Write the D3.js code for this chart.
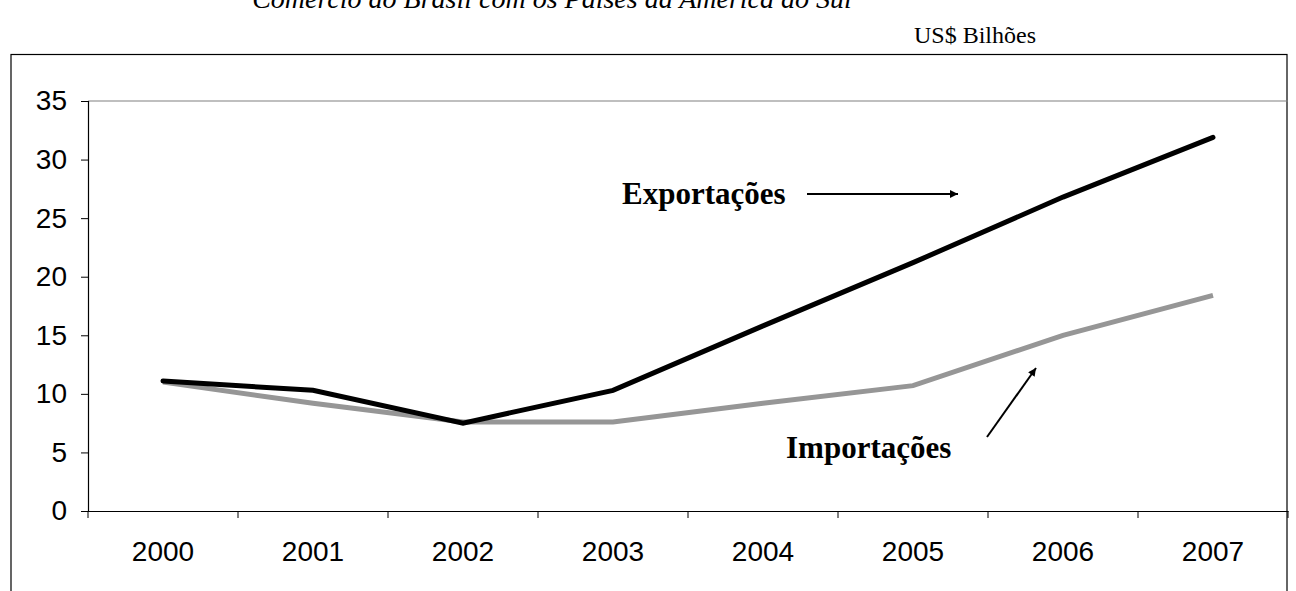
<!DOCTYPE html>
<html><head><meta charset="utf-8">
<script src="https://cdn.jsdelivr.net/npm/d3@7"></script>
<style>body{margin:0;background:#fff;} svg{display:block;}</style>
</head><body>
<svg id="c" width="1296" height="591"></svg>
<script>
const years = ["2000","2001","2002","2003","2004","2005","2006","2007"];
const exportacoes = [11.1, 10.3, 7.5, 10.3, 15.8, 21.2, 26.8, 31.9];
const importacoes = [11.0, 9.2, 7.6, 7.6, 9.2, 10.7, 15.0, 18.4];
const yTicks = [0,5,10,15,20,25,30,35];
const title = "Comércio do Brasil com os Países da América do Sul";
const unitLabel = "US$ Bilhões";

const svg = d3.select("#c");
const L = 88, R = 1288, T = 101, B = 511;
const x = d3.scaleBand().domain(years).range([L, R]);
const y = d3.scaleLinear().domain([0, 35]).range([B, T]);

// title (cut at top) and unit
svg.append("text").attr("x", 552).attr("y", 8).attr("text-anchor","middle")
  .attr("font-family","Liberation Serif").attr("font-style","italic").attr("font-size",28)
  .text(title);
svg.append("text").attr("x", 975).attr("y", 43).attr("text-anchor","middle")
  .attr("font-family","Liberation Serif").attr("font-size",24).text(unitLabel);

// outer chart border
svg.append("rect").attr("x",11).attr("y",54.5).attr("width",1276).attr("height",560)
  .attr("fill","none").attr("stroke","#000").attr("stroke-width",1.2);

// plot area border top
svg.append("line").attr("x1",L).attr("x2",R).attr("y1",T).attr("y2",T)
  .attr("stroke","#808080").attr("stroke-width",1.2);

// Y axis
const ya = svg.append("g").attr("transform",`translate(${L},0)`)
  .call(d3.axisLeft(y).tickValues(yTicks).tickSize(7).tickPadding(14));
ya.select(".domain").attr("stroke","#000").attr("stroke-width",1.2);
ya.selectAll(".tick line").attr("stroke","#000");
ya.selectAll("text").attr("font-family","Liberation Sans").attr("font-size",28).attr("fill","#000");

// X axis
const xa = svg.append("g").attr("transform",`translate(0,${B})`)
  .call(d3.axisBottom(x).tickSize(0).tickPadding(30));
xa.select(".domain").attr("stroke","#000").attr("stroke-width",1.2);
xa.selectAll("text").attr("font-family","Liberation Sans").attr("font-size",28).attr("fill","#000");
const bounds = years.map(d => x(d)).concat([R]);
svg.append("g").selectAll("line").data(bounds).join("line")
  .attr("x1",d=>d).attr("x2",d=>d).attr("y1",B).attr("y2",B+7)
  .attr("stroke","#000").attr("stroke-width",1);

const line = d3.line().x((d,i)=>x(years[i])+x.bandwidth()/2).y(d=>y(d));
svg.append("path").datum(importacoes).attr("d",line).attr("fill","none")
  .attr("stroke","#969696").attr("stroke-width",5).attr("stroke-linejoin","miter");
svg.append("path").datum(exportacoes).attr("d",line).attr("fill","none")
  .attr("stroke","#000").attr("stroke-width",5).attr("stroke-linecap","round");

// arrow marker
svg.append("defs").append("marker").attr("id","ah").attr("viewBox","0 0 10 10")
  .attr("refX",10).attr("refY",5).attr("markerWidth",5).attr("markerHeight",4)
  .attr("markerUnits","strokeWidth").attr("orient","auto")
  .append("path").attr("d","M0,0 L10,5 L0,10 z").attr("fill","#000");

svg.append("text").attr("x",622).attr("y",204)
  .attr("font-family","Liberation Serif").attr("font-weight","bold").attr("font-size",31)
  .text("Exportações");
svg.append("line").attr("x1",807).attr("y1",194).attr("x2",958).attr("y2",194)
  .attr("stroke","#000").attr("stroke-width",2).attr("marker-end","url(#ah)");

svg.append("text").attr("x",786).attr("y",458)
  .attr("font-family","Liberation Serif").attr("font-weight","bold").attr("font-size",31)
  .text("Importações");
svg.append("line").attr("x1",987).attr("y1",437).attr("x2",1036).attr("y2",368)
  .attr("stroke","#000").attr("stroke-width",2).attr("marker-end","url(#ah)");
</script>
</body></html>
